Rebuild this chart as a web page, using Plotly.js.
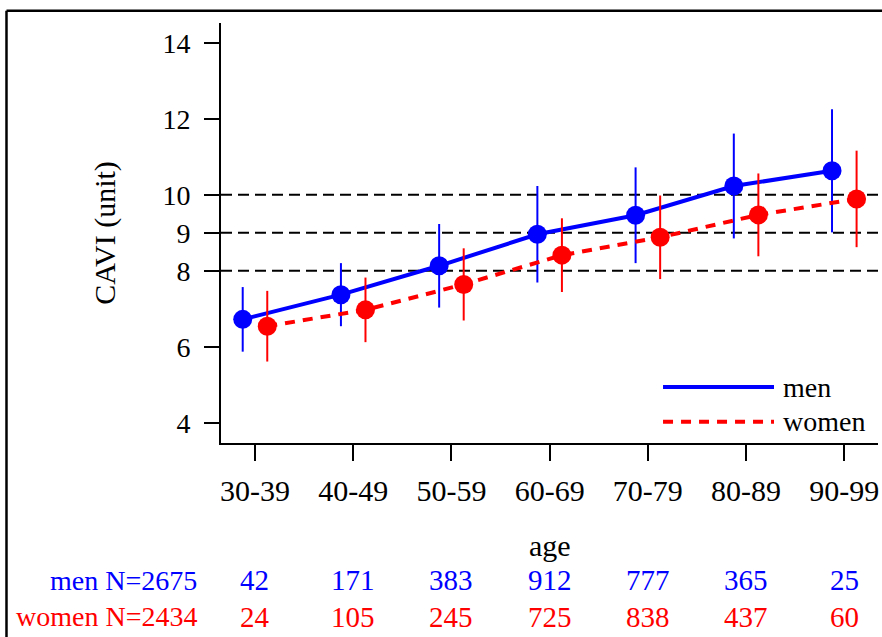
<!DOCTYPE html>
<html>
<head>
<meta charset="utf-8">
<script src="https://cdn.plot.ly/plotly-3.0.1.min.js"></script>
<style>html,body{margin:0;padding:0;background:#fff;}#chart{width:882px;height:637px;}</style>
</head>
<body>
<div id="chart"></div>
<script>
// ---- data ----
const ageGroups = ["30-39", "40-49", "50-59", "60-69", "70-79", "80-89", "90-99"];
const menMean   = [6.72, 7.37, 8.13, 8.96, 9.46, 10.23, 10.63];
const menSD     = [0.85, 0.83, 1.10, 1.27, 1.26, 1.38, 1.62];
const womenMean = [6.54, 6.97, 7.64, 8.41, 8.88, 9.47, 9.89];
const womenSD   = [0.93, 0.85, 0.95, 0.97, 1.10, 1.09, 1.27];
const menN      = [42, 171, 383, 912, 777, 365, 25];
const womenN    = [24, 105, 245, 725, 838, 437, 60];
const menTotal  = 2675;
const womenTotal = 2434;
const refLines  = [8, 9, 10];
const yTicks    = [4, 6, 8, 9, 10, 12, 14];

const BLUE = "#0000ff", RED = "#ff0000";
const FONT = "Liberation Serif";

const men = {
  x: ageGroups, y: menMean, name: "men", type: "scatter", mode: "lines+markers",
  line: {color: BLUE, width: 4},
  marker: {color: BLUE, size: 19},
  error_y: {type: "data", array: menSD, visible: true, color: BLUE, thickness: 2, width: 0},
  showlegend: false
};
const women = {
  x: ageGroups, y: womenMean, name: "women", type: "scatter", mode: "lines+markers",
  line: {color: RED, width: 4, dash: "10px,8px"},
  marker: {color: RED, size: 19},
  error_y: {type: "data", array: womenSD, visible: true, color: RED, thickness: 2, width: 0},
  showlegend: false
};

const shapes = refLines.map(v => ({
  type: "line", xref: "paper", yref: "y", x0: 0, x1: 1, y0: v, y1: v,
  line: {color: "black", width: 2, dash: "11px,6px"}, layer: "below"
}));
// legend samples
shapes.push({type: "line", xref: "paper", yref: "paper", x0: 0.6728, x1: 0.8417, y0: 0.1333, y1: 0.1333,
  line: {color: BLUE, width: 4}});
shapes.push({type: "line", xref: "paper", yref: "paper", x0: 0.6728, x1: 0.8417, y0: 0.0507, y1: 0.0507,
  line: {color: RED, width: 4, dash: "10px,8px"}});
// outer frame (top and left edges)
shapes.push({type: "line", xref: "paper", yref: "paper", x0: -0.3265, x1: 1.2, y0: 1.0293, y1: 1.0293,
  line: {color: "black", width: 2.5}});
shapes.push({type: "line", xref: "paper", yref: "paper", x0: -0.3265, x1: -0.3265, y0: 1.0293, y1: -0.6,
  line: {color: "black", width: 2.5}});

const annotations = [];
annotations.push({xref: "paper", yref: "paper", x: 0.8524, y: 0.1333, xanchor: "left", yanchor: "middle",
  text: "men", showarrow: false, font: {family: FONT, size: 28, color: "black"}});
annotations.push({xref: "paper", yref: "paper", x: 0.8524, y: 0.0507, xanchor: "left", yanchor: "middle",
  text: "women", showarrow: false, font: {family: FONT, size: 28, color: "black"}});
annotations.push({xref: "paper", yref: "paper", x: -0.0335, y: -0.3262, xanchor: "right", yanchor: "middle",
  text: "men N=" + menTotal, showarrow: false, font: {family: FONT, size: 28, color: BLUE}});
annotations.push({xref: "paper", yref: "paper", x: -0.0335, y: -0.4136, xanchor: "right", yanchor: "middle",
  text: "women N=" + womenTotal, showarrow: false, font: {family: FONT, size: 28, color: RED}});
ageGroups.forEach((g, i) => {
  annotations.push({xref: "x", yref: "paper", x: g, y: -0.3262, xanchor: "center", yanchor: "middle",
    text: String(menN[i]), showarrow: false, font: {family: FONT, size: 29, color: BLUE}});
  annotations.push({xref: "x", yref: "paper", x: g, y: -0.4136, xanchor: "center", yanchor: "middle",
    text: String(womenN[i]), showarrow: false, font: {family: FONT, size: 29, color: RED}});
});
annotations.push({xref: "paper", yref: "paper", x: 0.5, y: -0.2429, xanchor: "center", yanchor: "middle",
  text: "age", showarrow: false, font: {family: FONT, size: 30, color: "black"}});

const layout = {
  width: 882, height: 637,
  margin: {l: 221, r: 4, t: 23, b: 194},
  paper_bgcolor: "white", plot_bgcolor: "white",
  font: {family: FONT, color: "black"},
  scattermode: "group", scattergap: 0.5,
  xaxis: {
    type: "category", range: [-0.346, 6.343],
    showgrid: false, zeroline: false, showline: true, linecolor: "black", linewidth: 2,
    ticks: "outside", ticklen: 16, tickwidth: 2, tickcolor: "black",
    tickfont: {family: FONT, size: 30, color: "black"}, ticklabelstandoff: 4
  },
  yaxis: {
    range: [3.466, 14.52], tickvals: yTicks, ticktext: yTicks.map(String),
    showgrid: false, zeroline: false, showline: true, linecolor: "black", linewidth: 2,
    ticks: "outside", ticklen: 15, tickwidth: 2, tickcolor: "black",
    tickfont: {family: FONT, size: 28, color: "black"}, ticklabelstandoff: 8,
    title: {text: "CAVI (unit)", font: {family: FONT, size: 30, color: "black"}, standoff: 38}
  },
  shapes: shapes,
  annotations: annotations,
  showlegend: false
};

Plotly.newPlot("chart", [men, women], layout, {displayModeBar: false, staticPlot: true});
</script>
</body>
</html>
